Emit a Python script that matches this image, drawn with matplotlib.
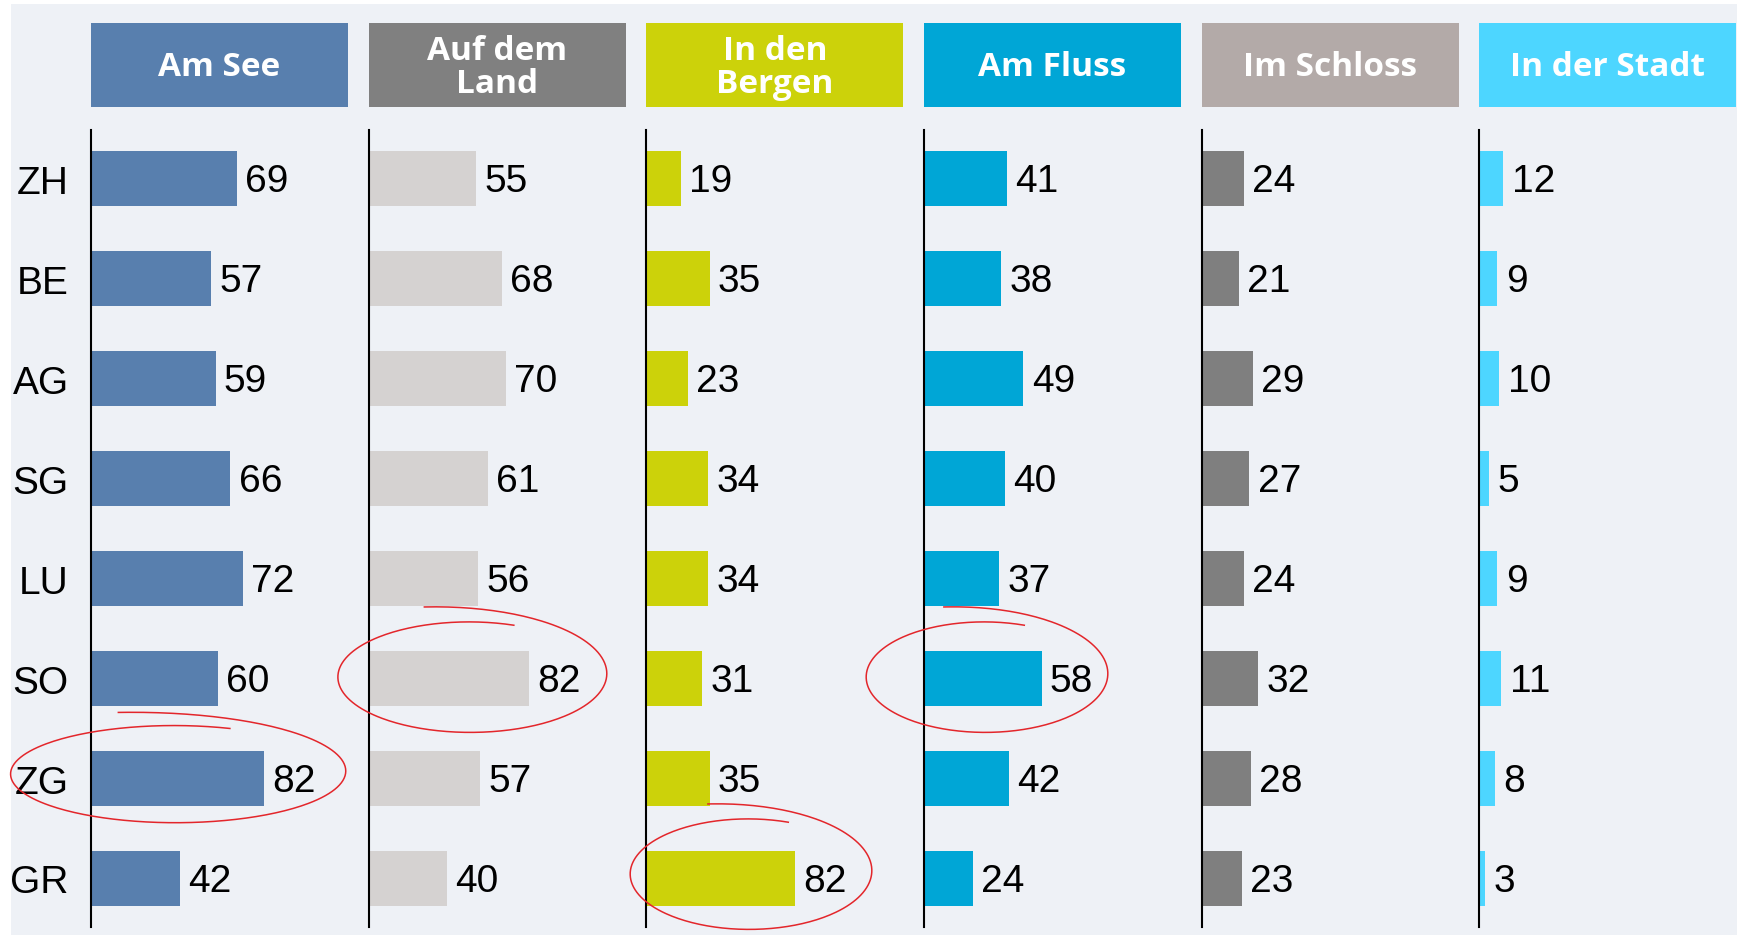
import numpy as np
import matplotlib
matplotlib.use('Agg')
import matplotlib.pyplot as plt
from matplotlib.patches import Rectangle

W, H = 1737, 937

regions = ['ZH', 'BE', 'AG', 'SG', 'LU', 'SO', 'ZG', 'GR']
headers = ['Am See', 'Auf dem\nLand', 'In den\nBergen', 'Am Fluss',
           'Im Schloss', 'In der Stadt']
am_see = [69, 57, 59, 66, 72, 60, 82, 42]
auf_dem_land = [55, 68, 70, 61, 56, 82, 57, 40]
in_den_bergen = [19, 35, 23, 34, 34, 31, 35, 82]
am_fluss = [41, 38, 49, 40, 37, 58, 42, 24]
im_schloss = [24, 21, 29, 27, 24, 32, 28, 23]
in_der_stadt = [12, 9, 10, 5, 9, 11, 8, 3]
series = [am_see, auf_dem_land, in_den_bergen, am_fluss, im_schloss, in_der_stadt]

# highlighted cells (column, row)
marked = [(0, 6), (1, 5), (2, 7), (3, 5)]

HEAD_COLORS = ['#587FAE', '#808080', '#CCD20A', '#00A6D6', '#B3AAA8', '#4DD6FF']
BAR_COLORS = ['#587FAE', '#D5D2D1', '#CCD20A', '#00A6D6', '#7F7F7F', '#4DD6FF']
XMAX = [121.7, 131.3, 141.9, 126.8, 146.0, 128.5]
BG = '#EEF1F6'

NUM_FONT = ['Liberation Sans', 'DejaVu Sans']
HEAD_FONT = ['Open Sans', 'DejaVu Sans']

fig = plt.figure(figsize=(W / 100, H / 100), dpi=100)

# pixel overlay for background and headers
back = fig.add_axes([0, 0, 1, 1], zorder=0)
back.set_xlim(0, W)
back.set_ylim(H, 0)
back.axis('off')
back.add_patch(Rectangle((11, 5), W - 11, H - 6, color=BG, lw=0))

x0, pitch, col_w = 91, 277.66, 257
ax_top, ax_bot = 131, 928

for i, (vals, name) in enumerate(zip(series, headers)):
    left = x0 + i * pitch
    back.add_patch(Rectangle((left, 24), col_w, 83.5,
                             color=HEAD_COLORS[i], lw=0))
    back.text(left + col_w / 2, 68, name, color='white', ha='center',
              va='center', fontsize=24, fontweight='bold',
              family=HEAD_FONT, linespacing=1.0)

    ax = fig.add_axes([left / W, 1 - ax_bot / H, col_w / W,
                       (ax_bot - ax_top) / H], zorder=1)
    ax.patch.set_alpha(0)
    y = np.arange(len(regions))
    ax.barh(y, vals, height=0.557, color=BAR_COLORS[i])
    for yy, v in zip(y, vals):
        ax.annotate(str(v), (v, yy), xytext=(6, -1.5),
                    textcoords='offset points', va='center', ha='left',
                    fontsize=28, family=NUM_FONT, annotation_clip=False)
    ax.set_xlim(0, XMAX[i])
    ax.set_ylim(len(regions) - 0.515, -0.485)
    for s in ['top', 'right', 'bottom']:
        ax.spines[s].set_visible(False)
    ax.spines['left'].set_linewidth(1.5)
    ax.set_xticks([])
    if i == 0:
        ax.set_yticks(y)
        ax.set_yticklabels(regions, fontsize=28, family=NUM_FONT)
        ax.tick_params(axis='y', length=0, pad=16)
    else:
        ax.set_yticks([])

# hand-drawn red loops around the highlighted cells
top = fig.add_axes([0, 0, 1, 1], zorder=5)
top.set_xlim(0, W)
top.set_ylim(H, 0)
top.axis('off')
loops = {(0, 6): (174, 775, 172, 51), (1, 5): (469, 678, 138, 58),
         (2, 7): (748, 875, 124, 58), (3, 5): (984, 678, 124, 58)}
t = np.linspace(0, 1, 300)
for key in marked:
    cx, cy, rx, ry = loops[key]
    ang = np.deg2rad(70 + 395 * t)
    s = 0.95 + 0.3 * t ** 6
    top.plot(cx + rx * s * np.cos(ang), cy - ry * s * np.sin(ang),
             color='#E3262B', lw=1.1)

fig.savefig('out.png', dpi=100)
